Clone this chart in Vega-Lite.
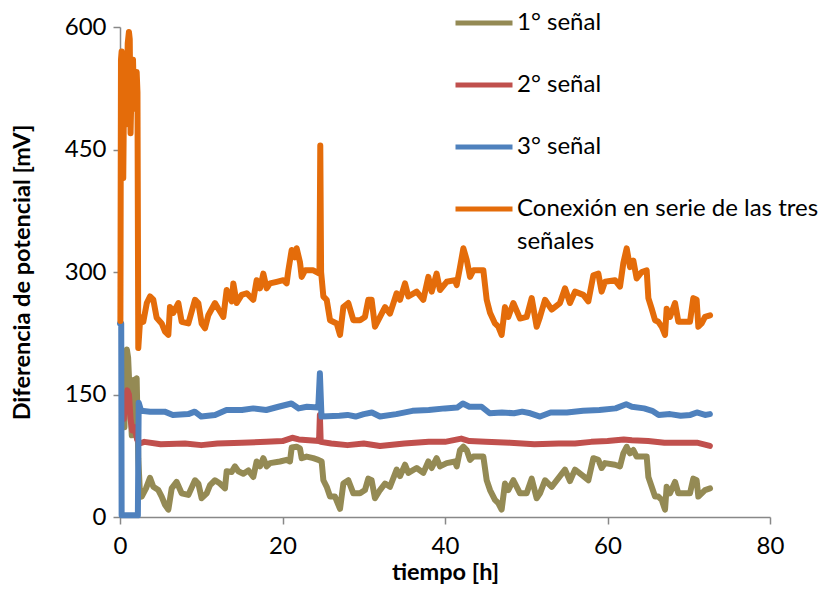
{
  "$schema": "https://vega.github.io/schema/vega-lite/v6.json",
  "width": 650,
  "height": 490,
  "autosize": {"type": "none"},
  "padding": {"left": 120, "top": 27, "right": 65, "bottom": 73},
  "background": "white",
  "config": {"view": {"stroke": null}, "font": "Lato", "style": {"guide-label": {"lineHeight": 33}}},
  "datasets": {
    "olive": [
      {"t":0.55,"v":110},{"t":0.7,"v":180},{"t":0.85,"v":205},{"t":1.0,"v":195},{"t":1.15,"v":160},{"t":1.3,"v":130},{"t":1.45,"v":100},{"t":1.6,"v":120},{"t":1.75,"v":168},{"t":1.9,"v":160},{"t":2.05,"v":170},{"t":2.15,"v":120},{"t":2.25,"v":72},{"t":2.45,"v":30},{"t":2.67,"v":25},{"t":3.2,"v":35},{"t":3.69,"v":48},{"t":4.1,"v":37},{"t":4.72,"v":33},{"t":5.13,"v":25},{"t":5.54,"v":15},{"t":5.95,"v":9},{"t":6.36,"v":35},{"t":6.97,"v":43},{"t":7.59,"v":29},{"t":8.41,"v":27},{"t":9.23,"v":45},{"t":9.64,"v":41},{"t":10.05,"v":23},{"t":10.67,"v":29},{"t":11.08,"v":39},{"t":11.69,"v":45},{"t":12.31,"v":41},{"t":12.92,"v":35},{"t":13.13,"v":56},{"t":13.74,"v":55},{"t":14.15,"v":62},{"t":14.56,"v":56},{"t":15.18,"v":53},{"t":15.79,"v":57},{"t":16.41,"v":49},{"t":16.82,"v":68},{"t":17.23,"v":62},{"t":17.64,"v":72},{"t":18.05,"v":62},{"t":18.46,"v":66},{"t":19.69,"v":68},{"t":20.51,"v":70},{"t":20.92,"v":68},{"t":21.13,"v":85},{"t":21.74,"v":86},{"t":22.15,"v":84},{"t":22.36,"v":72},{"t":22.97,"v":74},{"t":23.79,"v":72},{"t":24.41,"v":70},{"t":24.82,"v":68},{"t":25.03,"v":45},{"t":25.44,"v":37},{"t":25.85,"v":25},{"t":26.46,"v":25},{"t":27.08,"v":10},{"t":27.49,"v":41},{"t":28.1,"v":45},{"t":28.72,"v":29},{"t":29.54,"v":29},{"t":30.15,"v":33},{"t":30.56,"v":47},{"t":30.97,"v":45},{"t":31.38,"v":23},{"t":32,"v":33},{"t":32.62,"v":41},{"t":33.23,"v":37},{"t":34.05,"v":58},{"t":34.46,"v":50},{"t":35.08,"v":64},{"t":35.49,"v":54},{"t":36.51,"v":60},{"t":37.33,"v":54},{"t":37.95,"v":68},{"t":38.36,"v":60},{"t":38.97,"v":72},{"t":39.38,"v":62},{"t":40.21,"v":66},{"t":41.23,"v":68},{"t":41.44,"v":62},{"t":41.85,"v":82},{"t":42.26,"v":86},{"t":42.67,"v":82},{"t":43.08,"v":70},{"t":43.49,"v":74},{"t":44.72,"v":74},{"t":45.13,"v":45},{"t":45.54,"v":33},{"t":46.15,"v":21},{"t":46.56,"v":17},{"t":46.97,"v":9},{"t":47.38,"v":41},{"t":47.79,"v":33},{"t":48.41,"v":45},{"t":49.23,"v":29},{"t":50.05,"v":29},{"t":50.67,"v":47},{"t":51.28,"v":23},{"t":51.69,"v":29},{"t":52.31,"v":45},{"t":53.13,"v":37},{"t":54.15,"v":50},{"t":54.77,"v":58},{"t":55.38,"v":44},{"t":56,"v":58},{"t":57.03,"v":50},{"t":57.64,"v":45},{"t":58.26,"v":72},{"t":58.87,"v":70},{"t":59.28,"v":60},{"t":59.69,"v":66},{"t":60.92,"v":64},{"t":61.54,"v":62},{"t":61.95,"v":78},{"t":62.36,"v":86},{"t":62.77,"v":78},{"t":63.18,"v":82},{"t":63.59,"v":74},{"t":64.21,"v":74},{"t":64.82,"v":74},{"t":65.03,"v":49},{"t":65.44,"v":37},{"t":65.85,"v":25},{"t":66.26,"v":25},{"t":66.67,"v":21},{"t":67.08,"v":9},{"t":67.28,"v":37},{"t":67.69,"v":29},{"t":68.31,"v":43},{"t":68.72,"v":29},{"t":69.33,"v":29},{"t":70.15,"v":29},{"t":70.56,"v":47},{"t":70.97,"v":45},{"t":71.18,"v":25},{"t":71.59,"v":29},{"t":72,"v":33},{"t":72.62,"v":35}
    ],
    "red": [
      {"t":0.45,"v":120},{"t":0.7,"v":147},{"t":0.9,"v":155},{"t":1.1,"v":150},{"t":1.3,"v":120},{"t":1.5,"v":106},{"t":1.8,"v":110},{"t":2.1,"v":95},{"t":2.4,"v":90},{"t":3,"v":92},{"t":5,"v":89},{"t":8,"v":90},{"t":10,"v":88},{"t":12,"v":90},{"t":15,"v":91},{"t":18,"v":92},{"t":20,"v":93},{"t":21.2,"v":97},{"t":22,"v":95},{"t":24.5,"v":93},{"t":24.6,"v":125},{"t":24.7,"v":92},{"t":26,"v":90},{"t":28,"v":88},{"t":30,"v":90},{"t":32,"v":87},{"t":35,"v":90},{"t":38,"v":92},{"t":40,"v":92},{"t":42,"v":96},{"t":43,"v":93},{"t":45,"v":92},{"t":48,"v":91},{"t":51,"v":89},{"t":54,"v":90},{"t":56,"v":90},{"t":58,"v":92},{"t":60,"v":93},{"t":62,"v":95},{"t":63,"v":94},{"t":65,"v":93},{"t":67,"v":91},{"t":69,"v":91},{"t":71,"v":91},{"t":72.6,"v":87}
    ],
    "blue": [
      {"t":0,"v":237},{"t":0.15,"v":237},{"t":0.2,"v":2},{"t":2.2,"v":2},{"t":2.3,"v":140},{"t":2.6,"v":130},{"t":3.7,"v":129},{"t":5.5,"v":129},{"t":6.5,"v":125},{"t":8.4,"v":126},{"t":9.2,"v":129},{"t":10,"v":123},{"t":11.7,"v":125},{"t":13.1,"v":131},{"t":15,"v":131},{"t":16.4,"v":133},{"t":18,"v":131},{"t":19.5,"v":135},{"t":21.1,"v":139},{"t":22,"v":133},{"t":23,"v":135},{"t":24.4,"v":134},{"t":24.6,"v":176},{"t":24.8,"v":123},{"t":27,"v":124},{"t":28,"v":125},{"t":29,"v":123},{"t":30,"v":126},{"t":31,"v":128},{"t":32,"v":123},{"t":34,"v":126},{"t":36,"v":130},{"t":38,"v":131},{"t":40,"v":133},{"t":41.5,"v":134},{"t":42.2,"v":139},{"t":43,"v":135},{"t":44.5,"v":135},{"t":45.5,"v":127},{"t":47,"v":128},{"t":48.5,"v":127},{"t":49.5,"v":129},{"t":50.5,"v":127},{"t":51.7,"v":123},{"t":53,"v":128},{"t":55,"v":128},{"t":57,"v":130},{"t":59,"v":131},{"t":61,"v":133},{"t":62.3,"v":138},{"t":63,"v":135},{"t":64.5,"v":133},{"t":65.5,"v":130},{"t":66.3,"v":125},{"t":67.7,"v":126},{"t":69,"v":124},{"t":70.2,"v":125},{"t":71,"v":128},{"t":72,"v":125},{"t":72.6,"v":126}
    ],
    "orange": [
      {"t":0.05,"v":240},{"t":0.12,"v":560},{"t":0.2,"v":570},{"t":0.3,"v":430},{"t":0.4,"v":415},{"t":0.5,"v":520},{"t":0.6,"v":480},{"t":0.7,"v":540},{"t":0.8,"v":490},{"t":0.95,"v":580},{"t":1.1,"v":594},{"t":1.2,"v":585},{"t":1.3,"v":470},{"t":1.45,"v":540},{"t":1.6,"v":560},{"t":1.75,"v":500},{"t":1.9,"v":530},{"t":2.05,"v":545},{"t":2.15,"v":520},{"t":2.25,"v":207},{"t":2.5,"v":245},{"t":2.87,"v":239},{"t":3.3,"v":262},{"t":3.69,"v":270},{"t":4.1,"v":266},{"t":4.51,"v":244},{"t":5.13,"v":237},{"t":5.54,"v":227},{"t":5.95,"v":223},{"t":6.15,"v":257},{"t":6.56,"v":250},{"t":7.18,"v":262},{"t":7.59,"v":239},{"t":8.41,"v":237},{"t":9.23,"v":266},{"t":9.64,"v":262},{"t":10.05,"v":237},{"t":10.46,"v":231},{"t":10.87,"v":247},{"t":11.69,"v":262},{"t":12.1,"v":255},{"t":12.72,"v":245},{"t":13.13,"v":278},{"t":13.74,"v":264},{"t":13.95,"v":286},{"t":14.36,"v":262},{"t":14.97,"v":272},{"t":15.59,"v":274},{"t":16.41,"v":266},{"t":16.82,"v":290},{"t":17.23,"v":280},{"t":17.64,"v":298},{"t":18.05,"v":280},{"t":18.46,"v":286},{"t":19.28,"v":288},{"t":20.1,"v":290},{"t":20.51,"v":286},{"t":20.72,"v":302},{"t":21.13,"v":327},{"t":21.54,"v":318},{"t":21.74,"v":329},{"t":22.15,"v":312},{"t":22.36,"v":294},{"t":22.77,"v":302},{"t":23.79,"v":302},{"t":24.55,"v":298},{"t":24.65,"v":455},{"t":24.75,"v":300},{"t":25.03,"v":270},{"t":25.44,"v":266},{"t":25.85,"v":241},{"t":26.67,"v":237},{"t":27.08,"v":223},{"t":27.49,"v":257},{"t":28.1,"v":262},{"t":28.72,"v":241},{"t":29.54,"v":241},{"t":30.15,"v":245},{"t":30.56,"v":266},{"t":30.97,"v":266},{"t":31.38,"v":233},{"t":32,"v":245},{"t":32.62,"v":257},{"t":33.23,"v":249},{"t":34.05,"v":274},{"t":34.46,"v":266},{"t":35.08,"v":286},{"t":35.49,"v":270},{"t":36.51,"v":276},{"t":37.33,"v":266},{"t":37.95,"v":294},{"t":38.36,"v":276},{"t":38.97,"v":298},{"t":39.38,"v":278},{"t":40.21,"v":288},{"t":41.23,"v":290},{"t":41.44,"v":284},{"t":41.85,"v":306},{"t":42.26,"v":329},{"t":42.67,"v":315},{"t":43.08,"v":294},{"t":43.49,"v":302},{"t":44.72,"v":302},{"t":45.13,"v":266},{"t":45.54,"v":250},{"t":46.15,"v":237},{"t":46.56,"v":233},{"t":46.97,"v":223},{"t":47.38,"v":257},{"t":47.79,"v":245},{"t":48.41,"v":262},{"t":49.23,"v":243},{"t":50.05,"v":245},{"t":50.67,"v":268},{"t":51.28,"v":233},{"t":51.69,"v":245},{"t":52.31,"v":266},{"t":53.13,"v":254},{"t":54.15,"v":262},{"t":54.77,"v":280},{"t":55.38,"v":262},{"t":56,"v":276},{"t":57.03,"v":272},{"t":57.64,"v":264},{"t":58.26,"v":296},{"t":58.87,"v":298},{"t":59.28,"v":276},{"t":59.69,"v":288},{"t":60.92,"v":290},{"t":61.54,"v":282},{"t":61.95,"v":311},{"t":62.36,"v":329},{"t":62.77,"v":306},{"t":63.18,"v":314},{"t":63.59,"v":292},{"t":64.21,"v":300},{"t":64.82,"v":302},{"t":65.03,"v":268},{"t":65.44,"v":255},{"t":65.85,"v":241},{"t":66.26,"v":239},{"t":66.67,"v":233},{"t":67.08,"v":223},{"t":67.28,"v":255},{"t":67.69,"v":245},{"t":68.31,"v":262},{"t":68.72,"v":239},{"t":69.33,"v":239},{"t":70.15,"v":239},{"t":70.56,"v":268},{"t":70.97,"v":266},{"t":71.18,"v":233},{"t":71.59,"v":237},{"t":72,"v":245},{"t":72.62,"v":247}
    ]
  },
  "layer": [
    {
      "data": {"name": "olive"},
      "transform": [{"calculate": "'1° señal'", "as": "s"}],
      "mark": {"type": "line", "strokeWidth": 6, "strokeCap": "round", "strokeJoin": "round", "clip": false},
      "encoding": {
        "x": {"field": "t", "type": "quantitative"},
        "y": {"field": "v", "type": "quantitative"},
        "color": {"field": "s", "type": "nominal"}
      }
    },
    {
      "data": {"name": "red"},
      "transform": [{"calculate": "'2° señal'", "as": "s"}],
      "mark": {"type": "line", "strokeWidth": 6, "strokeCap": "round", "strokeJoin": "round", "clip": false},
      "encoding": {
        "x": {"field": "t", "type": "quantitative"},
        "y": {"field": "v", "type": "quantitative"},
        "color": {"field": "s", "type": "nominal"}
      }
    },
    {
      "data": {"name": "blue"},
      "transform": [{"calculate": "'3° señal'", "as": "s"}],
      "mark": {"type": "line", "strokeWidth": 6, "strokeCap": "round", "strokeJoin": "round", "clip": false},
      "encoding": {
        "x": {"field": "t", "type": "quantitative"},
        "y": {"field": "v", "type": "quantitative"},
        "color": {"field": "s", "type": "nominal"}
      }
    },
    {
      "data": {"name": "orange"},
      "transform": [{"calculate": "'Conexión en serie de las tres señales'", "as": "s"}],
      "mark": {"type": "line", "strokeWidth": 6, "strokeCap": "round", "strokeJoin": "round", "clip": false},
      "encoding": {
        "x": {"field": "t", "type": "quantitative"},
        "y": {"field": "v", "type": "quantitative"},
        "color": {"field": "s", "type": "nominal"}
      }
    }
  ],
  "resolve": {"scale": {"x": "shared", "y": "shared", "color": "shared"}},
  "encoding": {
    "x": {
      "field": "t", "type": "quantitative",
      "scale": {"domain": [0, 80], "nice": false, "zero": false},
      "axis": {
        "title": "tiempo [h]", "values": [0, 20, 40, 60, 80], "grid": false,
        "domainColor": "#888888", "domainWidth": 1.5, "tickColor": "#888888", "tickWidth": 1.5, "tickSize": 7,
        "labelFontSize": 24, "labelColor": "#000000", "labelPadding": 10, "labelFlush": false,
        "titleFontSize": 23.5, "titleFontWeight": "bold", "titleColor": "#000000", "titlePadding": 2
      }
    },
    "y": {
      "field": "v", "type": "quantitative",
      "scale": {"domain": [0, 600], "nice": false},
      "axis": {
        "title": "Diferencia de potencial [mV]", "values": [0, 150, 300, 450, 600], "grid": false,
        "domainColor": "#888888", "domainWidth": 1.5, "tickColor": "#888888", "tickWidth": 1.5, "tickSize": 7,
        "labelFontSize": 24, "labelColor": "#000000", "labelPadding": 7,
        "titleFontSize": 23.5, "titleFontWeight": "bold", "titleColor": "#000000", "titlePadding": 30
      }
    },
    "color": {
      "field": "s", "type": "nominal",
      "scale": {
        "domain": ["1° señal", "2° señal", "3° señal", "Conexión en serie de las tres señales"],
        "range": ["#948A54", "#C0504D", "#4F81BD", "#E46C0A"]
      },
      "legend": {
        "title": null, "orient": "none", "legendX": 333, "legendY": -35,
        "symbolType": "stroke", "symbolSize": 3249, "symbolStrokeWidth": 5,
        "labelFontSize": 24, "labelColor": "#000000", "labelLimit": 500, "labelOffset": 2,
        "rowPadding": 19,
        "labelExpr": "datum.label == 'Conexión en serie de las tres señales' ? ['Conexión en serie de las tres', 'señales'] : datum.label"
      }
    }
  }
}
